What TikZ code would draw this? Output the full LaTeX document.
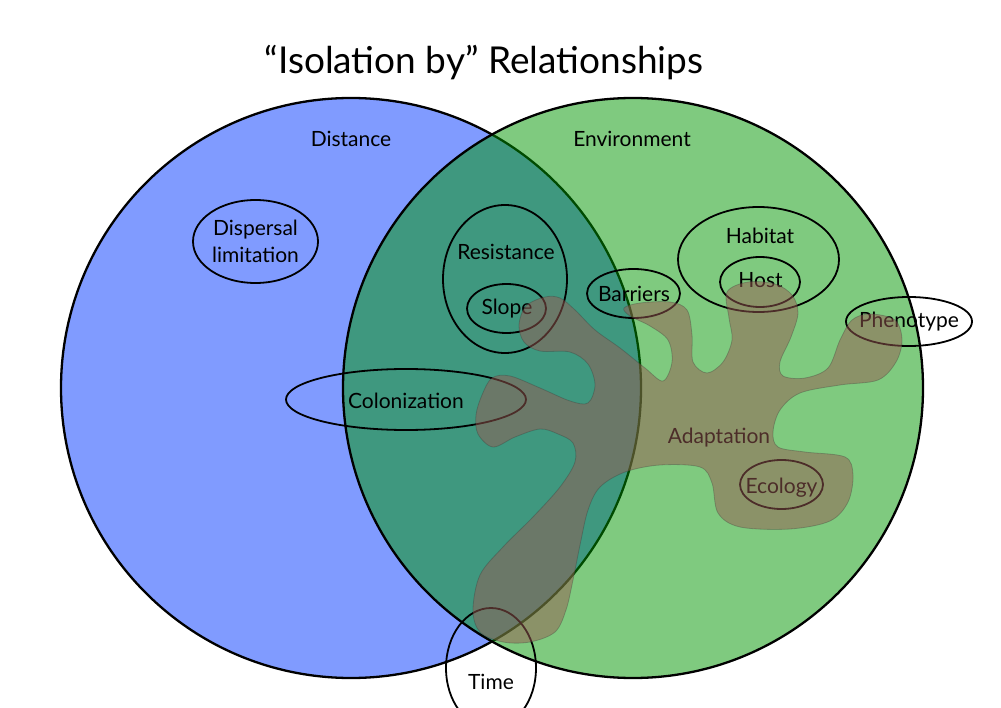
\documentclass[tikz,border=0pt]{standalone}
\usepackage{fontspec}
\setmainfont{Lato}
\usetikzlibrary{shapes.geometric}
\definecolor{distblue}{RGB}{128,155,255}
\definecolor{envgreen}{RGB}{0,150,0}
\definecolor{adaptbrown}{RGB}{152,90,82}
\tikzset{
  oval/.style={draw, ellipse, line width=1.8pt, inner sep=0pt},
  lab/.style={anchor=base, inner sep=0pt, font=\fontsize{21}{25}\selectfont},
  adapt/.style={fill=adaptbrown, fill opacity=0.5, draw=black!80, draw opacity=0.3, line width=0.8pt},
}
\begin{document}
\begin{tikzpicture}[x=1pt, y=-1pt]
    \useasboundingbox (0,0) rectangle (1001,708);
    \clip (0,0) rectangle (1001,708);
    \def\bigr{290pt}

    \draw[line width=2.3pt, fill=distblue] (351,388) circle[radius=\bigr];
    \draw[line width=2.3pt, fill=envgreen, fill opacity=0.5] (633,388) circle[radius=\bigr];

    \node[lab, font=\fontsize{37}{44}\selectfont] (title) at (484,74) {“Isolation by” Relationships};
    \node[lab] (disttxt) at (351,147) {Distance};
    \node[lab] (envtxt) at (632,147) {Environment};

    \node[oval, minimum width=125pt, minimum height=83pt, align=center, font=\fontsize{21}{27}\selectfont] (dispersal) at (255.5,241.5) {Dispersal\\limitation};
    \node[oval, minimum width=124pt, minimum height=148pt] (resist) at (505,279) {};
    \node[lab] (resisttxt) at (506,260) {Resistance};
    \node[oval, minimum width=79pt, minimum height=49pt] (slope) at (506.5,308.5) {};
    \node[lab] (slopetxt) at (507,315) {Slope};
    \node[oval, minimum width=93pt, minimum height=49pt] (barriers) at (633.5,293.5) {};
    \node[lab] (barrierstxt) at (634,302) {Barriers};
    \node[oval, minimum width=161pt, minimum height=105pt] (habitat) at (758.5,259.5) {};
    \node[lab] (habitattxt) at (760,244) {Habitat};
    \node[oval, minimum width=80pt, minimum height=50pt] (host) at (760,282) {};
    \node[lab] (hosttxt) at (760.5,288) {Host};
    \node[oval, minimum width=126pt, minimum height=49pt] (phenotype) at (909,321.5) {};
    \node[lab] (phenotypetxt) at (909,328) {Phenotype};
    \node[oval, minimum width=240pt, minimum height=61pt] (colonization) at (406,399.5) {};
    \node[lab] (colonizationtxt) at (406,408) {Colonization};
    \node[oval, minimum width=83pt, minimum height=49pt] (ecology) at (781.5,484.5) {};
    \node[lab] (ecologytxt) at (781.5,493) {Ecology};
    \node[oval, minimum width=90pt, minimum height=120pt] (time) at (491,668) {};
    \node[lab] (timetxt) at (491,689) {Time};
    \node[lab] (adapttxt) at (719,443) {Adaptation};

    % adaptation blob on top of everything
    \path[adapt] plot[smooth cycle, tension=0.55] coordinates {
        (503,642) (480,632) (473,610) (480,575) (503,547) (533,517) (560,487)
        (575,462) (573,443) (558,434) (540,429) (515,437) (493,447) (478,434)
        (476,415) (482,395) (492,378) (510,376) (540,388) (570,401) (588,403)
        (595,385) (588,364) (570,352) (540,351) (524,342) (519,325) (526,306)
        (545,297) (560,298) (575,310) (595,330) (620,348) (645,368) (663,381)
        (672,362) (668,340) (650,326) (630,316) (624,308) (640,303) (670,302)
        (687,310) (692,335) (693,362) (707,373) (723,362) (732,340) (729,318)
        (727,292) (748,282) (775,284) (792,295) (798,313) (791,337) (780,362)
        (783,376) (805,378) (828,368) (840,340) (852,320) (870,314) (895,320)
        (902,340) (896,362) (878,380) (840,385) (800,393) (780,410) (773,432)
        (778,447) (805,452) (845,457) (853,475) (848,502) (830,521) (790,529)
        (740,527) (718,513) (712,483) (700,467) (660,465) (625,472) (600,487)
        (588,510) (580,545) (573,580) (566,610) (555,632) (530,642)};
\end{tikzpicture}
\end{document}
